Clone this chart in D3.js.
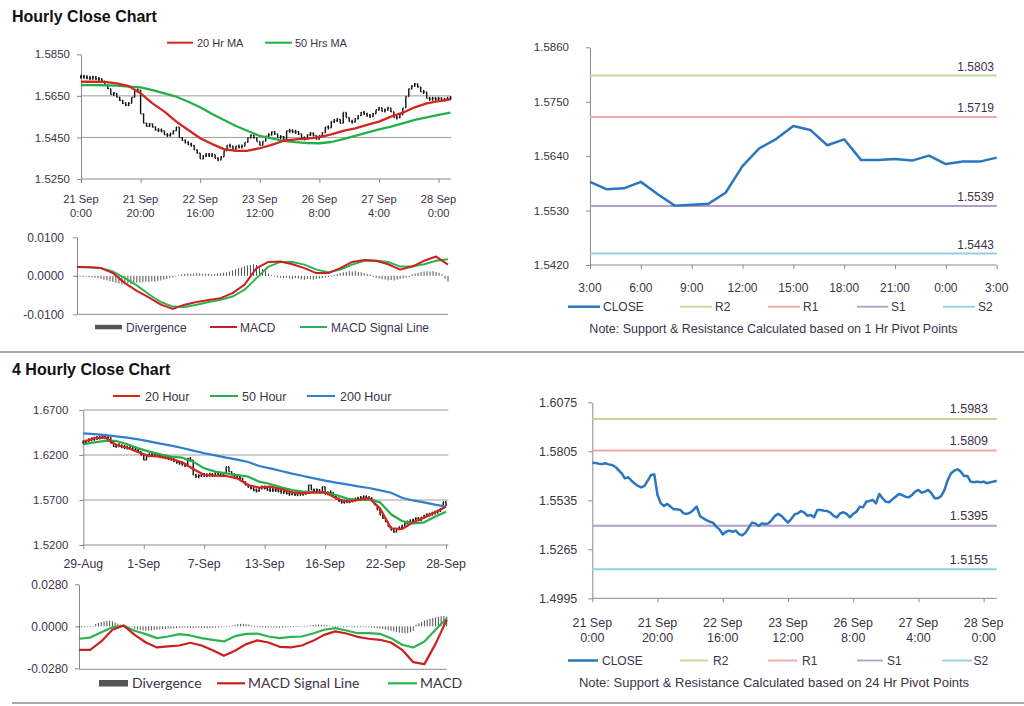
<!DOCTYPE html>
<html><head><meta charset="utf-8">
<script src="https://cdn.jsdelivr.net/npm/d3@7"></script>
<style>body{margin:0;background:#fff;}svg{display:block;}</style>
</head><body><svg id="c" width="1024" height="706"></svg>
<script>
// ---------------- DATA ----------------
// Hourly chart (21 Sep 0:00 .. 28 Sep 4:00), one value per hour
const hourlyTickIdx = [0, 20, 40, 60, 80, 100, 120];
const hourlyTickLabels = [["21 Sep","0:00"],["21 Sep","20:00"],["22 Sep","16:00"],["23 Sep","12:00"],["26 Sep","8:00"],["27 Sep","4:00"],["28 Sep","0:00"]];
const hourlyClose = [
 1.5742,1.5741,1.5737,1.5735,1.5739,1.5733,1.5730,1.5720,1.5702,1.5684,
 1.5656,1.5662,1.5643,1.5628,1.5614,1.5606,1.5614,1.5643,1.5674,1.5678,
 1.5564,1.5518,1.5504,1.5515,1.5500,1.5485,1.5485,1.5482,1.5463,1.5460,
 1.5467,1.5482,1.5500,1.5449,1.5436,1.5426,1.5417,1.5412,1.5390,1.5375,
 1.5347,1.5362,1.5368,1.5362,1.5368,1.5349,1.5342,1.5357,1.5386,1.5412,
 1.5408,1.5393,1.5408,1.5404,1.5408,1.5426,1.5449,1.5460,1.5449,1.5430,
 1.5412,1.5432,1.5457,1.5463,1.5476,1.5467,1.5449,1.5454,1.5441,1.5482,
 1.5482,1.5478,1.5476,1.5467,1.5449,1.5441,1.5463,1.5469,1.5460,1.5441,
 1.5460,1.5472,1.5500,1.5496,1.5527,1.5531,1.5537,1.5518,1.5570,1.5546,
 1.5527,1.5524,1.5540,1.5555,1.5570,1.5564,1.5555,1.5551,1.5564,1.5583,
 1.5592,1.5577,1.5583,1.5592,1.5573,1.5546,1.5546,1.5559,1.5592,1.5647,
 1.5684,1.5698,1.5706,1.5693,1.5669,1.5669,1.5638,1.5634,1.5638,1.5634,
 1.5638,1.5629,1.5634,1.5638,1.5641];
// moving averages / MACD read every 4 hours
const hourlyStep = 4;
const ma20Hr = [1.5718,1.5718,1.5717,1.5710,1.5697,1.5662,1.5614,1.5574,1.5526,1.5486,1.5446,1.5418,1.5394,1.5385,1.5386,1.5398,1.5414,1.5434,1.5441,1.5444,1.5451,1.5465,1.5482,1.5494,1.5510,1.5526,1.5550,1.5569,1.5595,1.5614,1.5625,1.5633];
const ma50Hr = [1.5702,1.5702,1.5701,1.5699,1.5694,1.5691,1.5678,1.5662,1.5646,1.5622,1.5595,1.5563,1.5534,1.5505,1.5481,1.5457,1.5446,1.5434,1.5427,1.5423,1.5422,1.5428,1.5442,1.5457,1.5473,1.5489,1.5502,1.5518,1.5534,1.5547,1.5558,1.5569];
const hourlyMacd = [0.0023,0.0022,0.0020,0.0007,-0.0019,-0.0039,-0.0056,-0.0075,-0.0086,-0.0075,-0.0068,-0.0063,-0.0058,-0.0045,-0.0023,0.0020,0.0036,0.0037,0.0030,0.0020,0.0007,0.0007,0.0020,0.0036,0.0041,0.0039,0.0030,0.0016,0.0024,0.0039,0.0050,0.0029];
const hourlySignal = [0.0023,0.0022,0.0020,0.0011,-0.0006,-0.0025,-0.0048,-0.0068,-0.0080,-0.0081,-0.0075,-0.0068,-0.0062,-0.0054,-0.0036,-0.0006,0.0024,0.0036,0.0036,0.0029,0.0016,0.0009,0.0016,0.0029,0.0039,0.0039,0.0036,0.0024,0.0024,0.0030,0.0039,0.0043];
const hourlyDivergence = [
 -0.0002,-0.0002,-0.0003,-0.0002,-0.0003,-0.0004,-0.0005,
 -0.0006,-0.0008,-0.0010,-0.0012,-0.0014,-0.0016,
 -0.0018,-0.0020,-0.0022,-0.0021,-0.0020,-0.0022,-0.0019,
 -0.0018,-0.0017,-0.0016,-0.0015,-0.0016,-0.0014,-0.0015,-0.0013,-0.0012,
 -0.0010,-0.0008,-0.0006,-0.0004,-0.0002,
 0.0002,0.0004,0.0005,0.0006,0.0005,0.0006,0.0007,0.0006,0.0005,0.0006,0.0005,0.0004,0.0005,0.0006,0.0007,0.0008,0.0009,
 0.0011,0.0014,0.0017,0.0020,0.0022,0.0025,0.0027,0.0028,0.0030,0.0028,0.0024,0.0018,
 0.0012,0.0006,0.0002,
 -0.0002,-0.0004,-0.0005,-0.0006,-0.0005,-0.0007,-0.0008,-0.0006,-0.0007,-0.0009,-0.0010,-0.0008,-0.0009,-0.0010,-0.0008,-0.0007,-0.0006,-0.0005,-0.0003,-0.0002,
 0.0003,0.0005,0.0007,0.0009,0.0010,0.0012,0.0011,0.0012,0.0010,0.0009,0.0007,0.0005,0.0003,
 -0.0003,-0.0005,-0.0007,-0.0009,-0.0010,-0.0012,-0.0011,-0.0012,-0.0010,-0.0008,-0.0007,-0.0005,-0.0003,
 0.0004,0.0006,0.0008,0.0010,0.0011,0.0012,0.0011,0.0012,0.0010,0.0008,0.0004,
 -0.0008,-0.0015];

// 1 Hr pivot chart (3:00 .. 3:00)
const pivot1hLabels = ["3:00","6:00","9:00","12:00","15:00","18:00","21:00","0:00","3:00"];
const pivot1hClose = [1.5588,1.5573,1.5575,1.5588,1.5563,1.5540,1.5542,1.5544,1.5566,1.5620,1.5656,1.5675,1.5701,1.5693,1.5662,1.5674,1.5632,1.5632,1.5634,1.5631,1.5641,1.5624,1.5629,1.5629,1.5637];
const pivot1hLevels = {R2: 1.5803, R1: 1.5719, S1: 1.5539, S2: 1.5443};
const pivot1hTicks = [1.5420, 1.5530, 1.5640, 1.5750, 1.5860];

// 24 Hr pivot chart (uses hourly close)
const pivot24hLevels = {R2: 1.5983, R1: 1.5809, S1: 1.5395, S2: 1.5155};
const pivot24hTicks = [1.4995, 1.5265, 1.5535, 1.5805, 1.6075];

// 4 hourly chart (29-Aug .. 28-Sep)
const fourHourTickIdx = [0, 22, 44, 66, 88, 110, 132];
const fourHourTickLabels = ["29-Aug","1-Sep","7-Sep","13-Sep","16-Sep","22-Sep","28-Sep"];
const fourHourClose = [
 1.6341,1.6356,1.6370,1.6378,1.6385,1.6393,1.6396,1.6400,1.6393,1.6396,
 1.6330,1.6293,1.6311,1.6304,1.6293,1.6285,1.6281,1.6274,1.6263,1.6256,
 1.6237,1.6200,1.6145,1.6193,1.6200,1.6200,1.6207,1.6193,1.6182,1.6182,
 1.6170,1.6163,1.6152,1.6133,1.6119,1.6107,1.6096,1.6081,1.6163,1.6145,
 1.5978,1.5959,1.5970,1.5985,1.5970,1.5978,1.5985,1.5970,1.5996,1.5985,
 1.5970,1.5996,1.6070,1.6015,1.5978,1.5970,1.5959,1.5941,1.5904,1.5867,
 1.5848,1.5830,1.5811,1.5800,1.5830,1.5848,1.5830,1.5811,1.5811,1.5811,
 1.5811,1.5800,1.5785,1.5793,1.5774,1.5763,1.5785,1.5756,1.5774,1.5763,
 1.5774,1.5785,1.5867,1.5811,1.5800,1.5811,1.5785,1.5848,1.5763,1.5785,
 1.5785,1.5737,1.5719,1.5689,1.5674,1.5689,1.5681,1.5689,1.5700,1.5711,
 1.5719,1.5726,1.5733,1.5726,1.5719,1.5700,1.5644,1.5589,1.5533,1.5496,
 1.5459,1.5404,1.5367,1.5348,1.5378,1.5393,1.5415,1.5441,1.5459,1.5467,
 1.5478,1.5496,1.5478,1.5504,1.5526,1.5533,1.5541,1.5552,1.5563,1.5578,
 1.5600,1.5681,1.5644];
const fourHourStep = 4;
const ma20Hour = [1.6348,1.6385,1.6396,1.6311,1.6281,1.6230,1.6189,1.6182,1.6156,1.6119,1.6045,1.5978,1.5970,1.5967,1.5941,1.5867,1.5837,1.5848,1.5822,1.5785,1.5774,1.5785,1.5785,1.5719,1.5681,1.5700,1.5719,1.5607,1.5385,1.5378,1.5452,1.5504,1.5563,1.5626];
const ma50Hour = [1.6319,1.6341,1.6356,1.6356,1.6319,1.6274,1.6237,1.6207,1.6182,1.6170,1.6126,1.6052,1.6015,1.5996,1.5978,1.5959,1.5904,1.5878,1.5841,1.5811,1.5793,1.5785,1.5782,1.5756,1.5715,1.5700,1.5707,1.5674,1.5541,1.5467,1.5441,1.5452,1.5515,1.5570];
const ma200Hour = [1.6441,1.6433,1.6422,1.6407,1.6393,1.6374,1.6352,1.6326,1.6304,1.6278,1.6248,1.6219,1.6196,1.6170,1.6148,1.6122,1.6078,1.6052,1.6022,1.5993,1.5967,1.5941,1.5915,1.5893,1.5874,1.5852,1.5833,1.5807,1.5781,1.5725,1.5695,1.5674,1.5648,1.5626];
const fourHourSignal = [-0.0157,-0.0157,-0.0101,-0.0023,0.0006,-0.0057,-0.0108,-0.0141,-0.0134,-0.0128,-0.0110,-0.0128,-0.0159,-0.0197,-0.0163,-0.0119,-0.0094,-0.0108,-0.0137,-0.0141,-0.0128,-0.0097,-0.0057,-0.0034,-0.0048,-0.0070,-0.0083,-0.0090,-0.0108,-0.0157,-0.0239,-0.0252,-0.0117,0.0043];
const fourHourMacd = [-0.0083,-0.0075,-0.0039,-0.0006,0.0003,-0.0030,-0.0052,-0.0079,-0.0068,-0.0052,-0.0061,-0.0079,-0.0090,-0.0101,-0.0066,-0.0050,-0.0048,-0.0068,-0.0079,-0.0070,-0.0068,-0.0048,-0.0023,-0.0012,-0.0028,-0.0046,-0.0046,-0.0050,-0.0079,-0.0123,-0.0141,-0.0101,-0.0023,0.0054];
const fourHourDivergence = [
 -0.0008,-0.0008,-0.0006,-0.0004,-0.0002,0.0000,
 0.0015,0.0022,0.0028,0.0033,0.0036,0.0038,0.0033,
 0.0025,0.0018,0.0012,0.0008,0.0004,0.0002,0.0000,
 -0.0015,-0.0020,-0.0024,-0.0028,-0.0030,-0.0029,-0.0026,-0.0024,-0.0022,-0.0020,-0.0019,-0.0018,-0.0016,-0.0015,-0.0014,-0.0012,
 -0.0010,-0.0009,-0.0008,-0.0010,-0.0011,-0.0012,-0.0010,-0.0009,-0.0011,-0.0012,-0.0013,-0.0011,-0.0010,-0.0009,-0.0008,-0.0006,-0.0004,-0.0002,0.0002,0.0006,
 0.0010,0.0014,0.0016,0.0017,0.0015,0.0012,0.0006,
 -0.0002,-0.0005,-0.0007,-0.0008,-0.0009,-0.0008,-0.0007,-0.0008,-0.0009,-0.0010,-0.0009,-0.0008,-0.0007,-0.0006,-0.0005,-0.0004,-0.0003,-0.0002,0.0000,0.0003,
 0.0006,0.0008,0.0010,0.0012,0.0011,0.0010,0.0008,0.0005,
 0.0002,-0.0002,-0.0004,-0.0005,-0.0006,-0.0005,-0.0004,-0.0006,-0.0007,-0.0006,-0.0005,-0.0004,-0.0005,-0.0006,-0.0008,-0.0010,-0.0012,-0.0015,-0.0018,-0.0022,
 -0.0026,-0.0030,-0.0034,-0.0038,-0.0042,-0.0045,-0.0046,-0.0044,-0.0040,-0.0030,
 0.0010,0.0020,0.0030,0.0038,0.0045,0.0050,0.0055,0.0060,0.0064,0.0067,0.0068,0.0065];

// ---------------- DRAWING ----------------
const FONT = "'Liberation Sans', Arial, sans-serif";
const TXT = "#3d3347";
const AX = "#8a8a8a";
const GRID = "#9c9c9c";
const C = {
  maRed: "#d3261f", maGreen: "#23b04a", maBlue: "#2f7fd0",
  close: "#2a77c0", R2: "#c3d69b", R1: "#f0a7a7", S1: "#b09ecb", S2: "#96cfe2",
  macdRed: "#cc1f1f", macdGreen: "#2db350", div: "#505050"
};
const svg = d3.select("#c");
svg.append("rect").attr("width", 1024).attr("height", 706).attr("fill", "#fff");
const fmt4 = v => (Math.abs(v) < 1e-9 ? 0 : v).toFixed(4);

function txt(x, y, s, size, opt = {}) {
  return svg.append("text").attr("x", x).attr("y", y).text(s)
    .attr("font-family", opt.family || FONT).attr("font-size", size)
    .attr("font-weight", opt.weight || "normal")
    .attr("fill", opt.fill || TXT).attr("text-anchor", opt.anchor || "start");
}
function hline(x1, x2, y, color, w) {
  svg.append("line").attr("x1", x1).attr("x2", x2).attr("y1", y).attr("y2", y)
    .attr("stroke", color).attr("stroke-width", w);
}
function yAxis(scale, x, ticks, size, pad) {
  const g = svg.append("g").attr("transform", `translate(${x},0)`)
    .call(d3.axisLeft(scale).tickValues(ticks).tickFormat(fmt4).tickSize(4).tickSizeOuter(0).tickPadding(pad));
  g.attr("font-family", FONT).attr("font-size", size);
  g.select(".domain").attr("stroke", AX);
  g.selectAll(".tick line").attr("stroke", AX);
  g.selectAll(".tick text").attr("fill", TXT);
}
function xAxis(scale, y, ticks, x1, x2) {
  const g = svg.append("g").attr("transform", `translate(0,${y})`)
    .call(d3.axisBottom(scale).tickValues(ticks).tickFormat("").tickSize(4).tickSizeOuter(0));
  g.select(".domain").remove();
  g.selectAll(".tick line").attr("stroke", AX);
  hline(x1, x2, y, AX, 1);
}
function xLabels2(scale, ticks, labels, y1, y2, size) {
  ticks.forEach((t, k) => {
    txt(scale(t), y1, labels[k][0], size, {anchor: "middle"});
    txt(scale(t), y2, labels[k][1], size, {anchor: "middle"});
  });
}
function sampledLine(values, step, xs, ys, color, w) {
  const line = d3.line().x((d, k) => xs(k * step)).y(d => ys(d));
  svg.append("path").datum(values).attr("d", line).attr("fill", "none")
    .attr("stroke", color).attr("stroke-width", w).attr("stroke-linejoin", "round");
}
function candles(values, xs, ys, tick) {
  const g = svg.append("g").attr("stroke", "#111").attr("stroke-width", 1.4);
  const geo = values.map((c, i) => {
    const o = i > 0 ? values[i - 1] : c;
    let a = ys(Math.max(o, c)), b = ys(Math.min(o, c));
    if (b - a < 4) { const m = (a + b) / 2; a = m - 2; b = m + 2; }
    return {x: xs(i), a, b, yo: ys(o), yc: ys(c)};
  });
  g.selectAll("line.v").data(geo).join("line").attr("class", "v")
    .attr("x1", d => d.x).attr("x2", d => d.x).attr("y1", d => d.a).attr("y2", d => d.b);
  g.selectAll("line.o").data(geo).join("line").attr("class", "o")
    .attr("x1", d => d.x - tick).attr("x2", d => d.x).attr("y1", d => d.yo).attr("y2", d => d.yo);
  g.selectAll("line.c").data(geo).join("line").attr("class", "c")
    .attr("x1", d => d.x).attr("x2", d => d.x + tick).attr("y1", d => d.yc).attr("y2", d => d.yc);
}
function divergenceBars(values, xs, ys, w) {
  svg.append("g").selectAll("rect").data(values).join("rect")
    .attr("x", (d, i) => xs(i) - w / 2).attr("width", w)
    .attr("y", d => Math.min(ys(d), ys(0))).attr("height", d => Math.max(0.6, Math.abs(ys(d) - ys(0))))
    .attr("fill", C.div);
}
function legendLine(x1, x2, y, color, w) { hline(x1, x2, y, color, w); }

// ====== Titles & separators ======
txt(12, 22, "Hourly Close Chart", 16, {weight: "bold", fill: "#111"});
txt(12, 374.5, "4 Hourly Close Chart", 16, {weight: "bold", fill: "#111"});
hline(0, 1024, 352, "#8d8d8d", 1.5);
hline(12, 1024, 703, "#8d8d8d", 1.5);

// ====== Panel A : hourly price ======
{
  const xs = d3.scaleLinear().domain([0, hourlyClose.length - 1]).range([81, 450.5]);
  const ys = d3.scaleLinear().domain([1.5250, 1.5850]).range([179, 54.3]);
  [1.5450, 1.5650].forEach(v => hline(81, 451, ys(v), GRID, 1));
  yAxis(ys, 81, [1.5250, 1.5450, 1.5650, 1.5850], 11.5, 7);
  xAxis(xs, 179, hourlyTickIdx, 81, 451);
  xLabels2(xs, hourlyTickIdx, hourlyTickLabels, 203, 216.5, 11.2);
  candles(hourlyClose, xs, ys, 0.9);
  sampledLine(ma50Hr, hourlyStep, xs, ys, C.maGreen, 2.3);
  sampledLine(ma20Hr, hourlyStep, xs, ys, C.maRed, 2.3);
  legendLine(167, 193, 42.7, C.maRed, 2); txt(197, 46.5, "20 Hr MA", 11);
  legendLine(265, 292, 42.7, C.maGreen, 2); txt(295, 46.5, "50 Hrs MA", 11);
}
// ====== Panel B : hourly MACD ======
{
  const xs = d3.scaleLinear().domain([0, hourlyDivergence.length - 1]).range([77, 448]);
  const ys = d3.scaleLinear().domain([-0.01, 0.01]).range([314.3, 237.3]);
  yAxis(ys, 77, [-0.01, 0, 0.01], 12, 9);
  hline(77, 448, 314.3, AX, 1);
  divergenceBars(hourlyDivergence, xs, ys, 1);
  sampledLine(hourlySignal, hourlyStep, xs, ys, C.macdGreen, 2);
  sampledLine(hourlyMacd, hourlyStep, xs, ys, C.macdRed, 2);
  svg.append("rect").attr("x", 95).attr("y", 324.8).attr("width", 27).attr("height", 4.5).attr("fill", "#555");
  txt(126, 331.5, "Divergence", 12);
  legendLine(210, 237, 327, C.macdRed, 2); txt(240, 331.5, "MACD", 12);
  legendLine(300, 327, 327, C.macdGreen, 2); txt(331, 331.5, "MACD Signal Line", 12);
}
// ====== Panel C : 1 Hr pivots ======
{
  const xs = d3.scaleLinear().domain([0, pivot1hClose.length - 1]).range([590, 996.7]);
  const ys = d3.scaleLinear().domain([1.5420, 1.5860]).range([265, 47.3]);
  yAxis(ys, 590, pivot1hTicks, 11.5, 17);
  const tIdx = pivot1hLabels.map((d, k) => k * 3);
  xAxis(xs, 265, tIdx, 590, 996.7);
  tIdx.forEach((t, k) => txt(xs(t), 291.5, pivot1hLabels[k], 12, {anchor: "middle"}));
  ["R2", "R1", "S1", "S2"].forEach(k => {
    hline(590, 996.7, ys(pivot1hLevels[k]), C[k], 2);
    txt(994, ys(pivot1hLevels[k]) - 5, pivot1hLevels[k].toFixed(4), 12, {anchor: "end"});
  });
  svg.append("path").datum(pivot1hClose)
    .attr("d", d3.line().x((d, i) => xs(i)).y(d => ys(d)))
    .attr("fill", "none").attr("stroke", C.close).attr("stroke-width", 2.5).attr("stroke-linejoin", "round");
  const lg = [["CLOSE", C.close, 568, 600, 603, 2.5], ["R2", C.R2, 680, 712, 715, 1.8], ["R1", C.R1, 768, 800, 803, 1.8], ["S1", C.S1, 857, 888, 891, 1.8], ["S2", C.S2, 943, 975, 978, 1.8]];
  lg.forEach(l => { legendLine(l[2], l[3], 306.7, l[1], l[5]); txt(l[4], 310.7, l[0], 12); });
  txt(773.5, 333, "Note: Support & Resistance Calculated based on 1 Hr Pivot Points", 12.5, {anchor: "middle"});
}
// ====== Panel D : 4 hourly price ======
{
  const xs = d3.scaleLinear().domain([0, fourHourClose.length - 1]).range([83.3, 446]);
  const ys = d3.scaleLinear().domain([1.52, 1.67]).range([545, 410]);
  [1.57, 1.62, 1.67].forEach(v => hline(83.3, 448.3, ys(v), GRID, 1));
  yAxis(ys, 83.3, [1.52, 1.57, 1.62, 1.67], 11.5, 11);
  xAxis(xs, 545, fourHourTickIdx, 83.3, 448.3);
  fourHourTickIdx.forEach((t, k) => txt(xs(t), 567.5, fourHourTickLabels[k], 12.3, {anchor: "middle"}));
  candles(fourHourClose, xs, ys, 0.9);
  sampledLine(ma200Hour, fourHourStep, xs, ys, C.maBlue, 2.2);
  sampledLine(ma50Hour, fourHourStep, xs, ys, C.maGreen, 2.2);
  sampledLine(ma20Hour, fourHourStep, xs, ys, C.maRed, 2.2);
  legendLine(113, 140, 396, C.maRed, 2); txt(145, 401, "20 Hour", 12.5);
  legendLine(210, 238, 396, C.maGreen, 2); txt(242, 401, "50 Hour", 12.5);
  legendLine(307, 335, 396, C.maBlue, 2); txt(340, 401, "200 Hour", 12.5);
}
// ====== Panel E : 4 hourly MACD ======
{
  const xs = d3.scaleLinear().domain([0, fourHourDivergence.length - 1]).range([79, 446.7]);
  const ys = d3.scaleLinear().domain([-0.028, 0.028]).range([668.3, 584.3]);
  yAxis(ys, 79, [-0.028, 0, 0.028], 12, 7);
  hline(79, 446.7, 669.3, AX, 1);
  divergenceBars(fourHourDivergence, xs, ys, 1);
  sampledLine(fourHourMacd, fourHourStep, xs, ys, C.macdGreen, 2.2);
  sampledLine(fourHourSignal, fourHourStep, xs, ys, C.macdRed, 2.2);
  svg.append("rect").attr("x", 99).attr("y", 680).attr("width", 29).attr("height", 6.5).attr("fill", "#555");
  const lf = "Lato, 'Liberation Sans', sans-serif";
  txt(132, 688, "Divergence", 14, {family: lf});
  legendLine(217, 245, 683.3, C.macdRed, 2.2); txt(248, 688, "MACD Signal  Line", 14, {family: lf});
  legendLine(388, 417, 683.3, C.macdGreen, 2.2); txt(420, 688, "MACD", 14, {family: lf});
}
// ====== Panel F : 24 Hr pivots ======
{
  const xs = d3.scaleLinear().domain([0, hourlyClose.length - 1]).range([592.3, 996.7]);
  const ys = d3.scaleLinear().domain([1.4995, 1.6075]).range([598.3, 402.3]);
  yAxis(ys, 592.3, pivot24hTicks, 12.5, 11);
  xAxis(xs, 598.3, hourlyTickIdx, 592.3, 996.7);
  xLabels2(xs, hourlyTickIdx, hourlyTickLabels, 626.5, 641.5, 12.5);
  ["R2", "R1", "S1", "S2"].forEach(k => {
    hline(592.3, 996.7, ys(pivot24hLevels[k]), C[k], 2);
    txt(988, ys(pivot24hLevels[k]) - 5.5, pivot24hLevels[k].toFixed(4), 12.5, {anchor: "end"});
  });
  svg.append("path").datum(hourlyClose)
    .attr("d", d3.line().x((d, i) => xs(i)).y(d => ys(d)))
    .attr("fill", "none").attr("stroke", C.close).attr("stroke-width", 2.5).attr("stroke-linejoin", "round");
  const lg = [["CLOSE", C.close, 568, 598, 602, 2.5], ["R2", C.R2, 680, 708, 713, 1.8], ["R1", C.R1, 768, 797, 802, 1.8], ["S1", C.S1, 857, 883, 887, 1.8], ["S2", C.S2, 942, 972, 973.5, 1.8]];
  lg.forEach(l => { legendLine(l[2], l[3], 660.5, l[1], l[5]); txt(l[4], 665, l[0], 12); });
  txt(774, 686.5, "Note: Support & Resistance Calculated based on 24 Hr Pivot Points", 13, {anchor: "middle"});
}
</script></body></html>
